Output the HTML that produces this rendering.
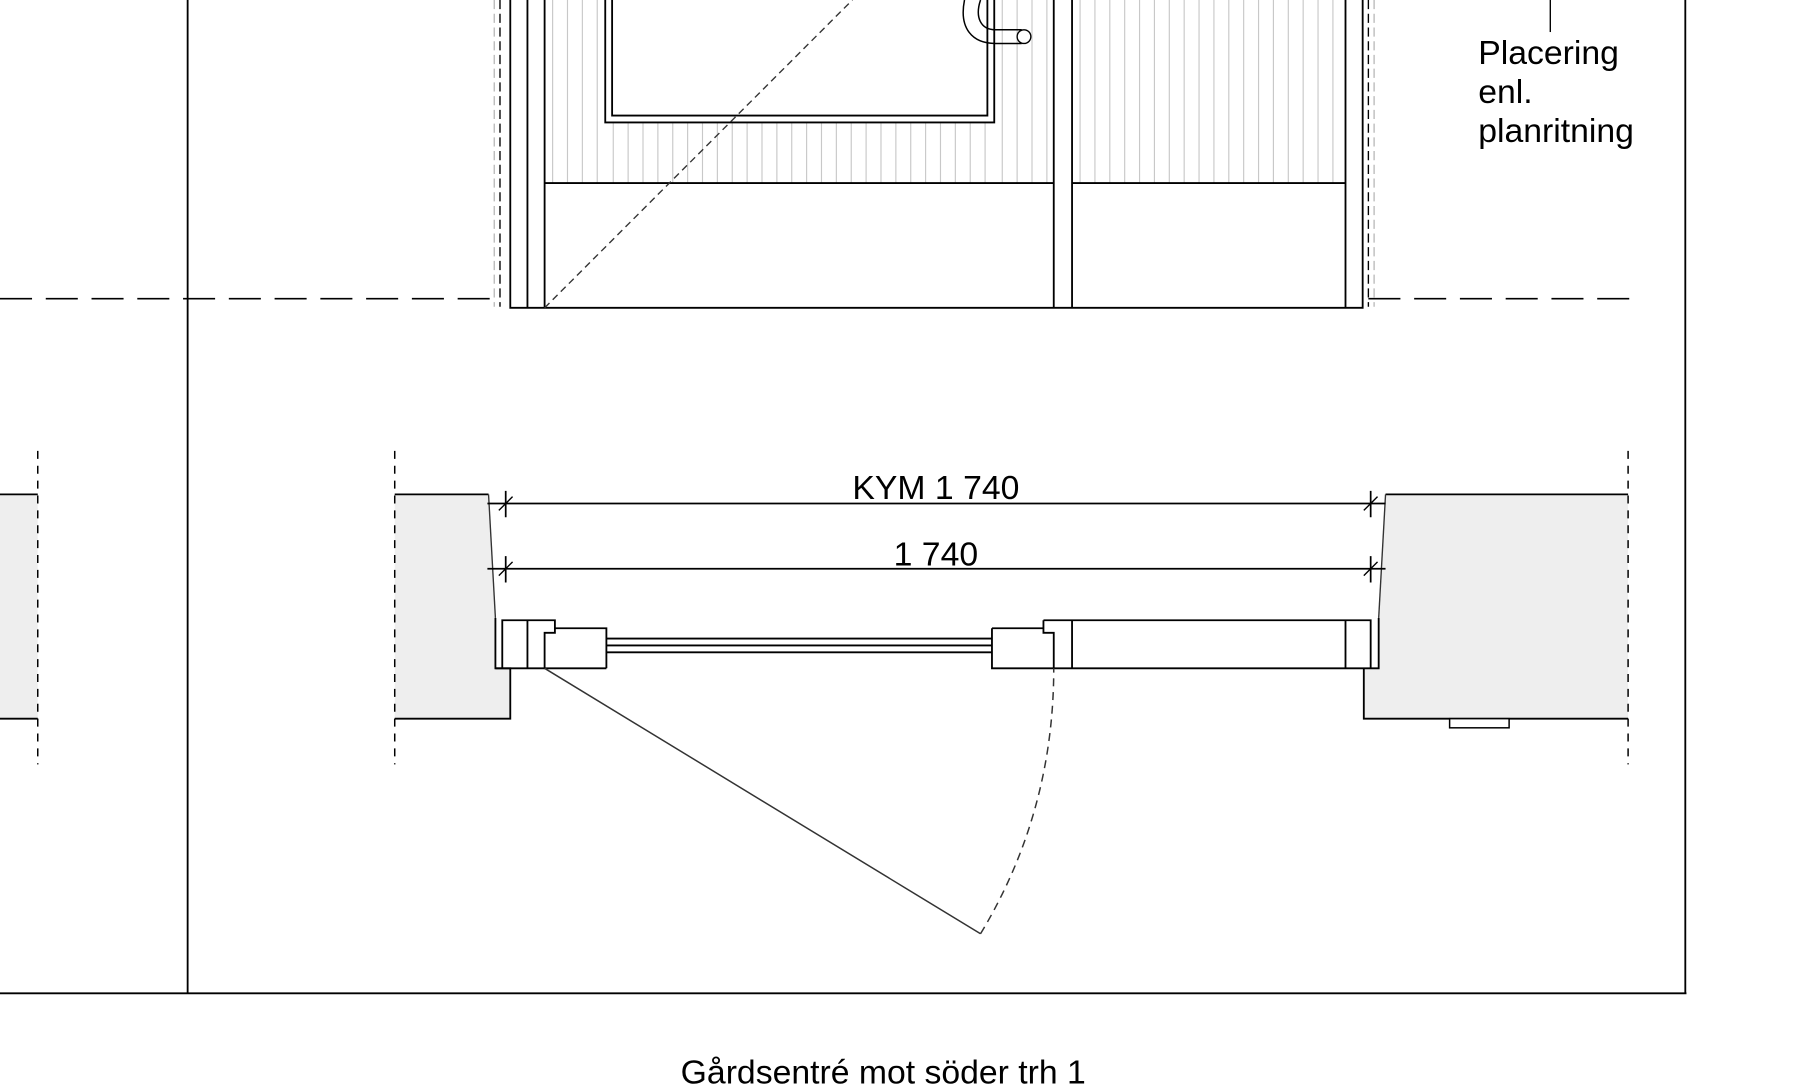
<!DOCTYPE html>
<html><head><meta charset="utf-8"><style>html,body{margin:0;padding:0;background:#fff;overflow:hidden}svg{display:block}</style></head>
<body>
<svg width="1794" height="1086" viewBox="0 0 1568 949" preserveAspectRatio="none" xmlns="http://www.w3.org/2000/svg" font-family="Liberation Sans, sans-serif">
<rect width="1568" height="949" fill="#fff"/>
<g stroke="#000" stroke-width="1.6" fill="none">
<line x1="164" y1="0" x2="164" y2="868"/>
<line x1="0" y1="868" x2="1474" y2="868"/>
<line x1="1473" y1="0" x2="1473" y2="868"/>
</g>
<g stroke="#000" stroke-width="1.4" stroke-dasharray="28,12">
<line x1="0" y1="261" x2="432" y2="261"/>
<line x1="1196" y1="261" x2="1432" y2="261"/>
</g>
<g stroke="#c8c8c8" stroke-width="1">
<path d="M483 0V160M496 0V160M509 0V160M522 0V160"/>
<path d="M536 107V160M549 107V160M562 107V160M575 107V160M588 107V160M601 107V160M614 107V160M627 107V160M640 107V160M653 107V160M666 107V160M679 107V160M692 107V160M705 107V160M718 107V160M731 107V160M744 107V160M757 107V160M770 107V160M783 107V160M796 107V160M809 107V160M822 107V160M835 107V160M848 107V160M861 107V160"/>
<path d="M876 0V160M889 0V160M902 0V160M915 0V160"/>
<path d="M944 0V160M957 0V160M970 0V160M983 0V160M996 0V160M1009 0V160M1022 0V160M1035 0V160M1048 0V160M1061 0V160M1074 0V160M1087 0V160M1100 0V160M1113 0V160M1126 0V160M1139 0V160M1152 0V160M1165 0V160"/>
</g>
<g stroke="#bbb" stroke-width="1.2" stroke-dasharray="8,4">
<line x1="432" y1="0" x2="432" y2="268"/><line x1="1201" y1="0" x2="1201" y2="268"/>
</g>
<g stroke="#000" stroke-width="1.2" stroke-dasharray="8,4">
<line x1="437" y1="0" x2="437" y2="268"/><line x1="1196" y1="0" x2="1196" y2="268"/>
</g>
<g stroke="#000" stroke-width="1.6" fill="none">
<path d="M446 0V269H1191V0"/>
<path d="M461 0V269M476 0V269M921 0V269M937 0V269M1176 0V269"/>
<path d="M476 160H921M937 160H1176"/>
<path d="M529 0V107H869V0"/>
<path d="M535 0V101H863V0"/>
<path d="M843 0C838 25 850 38 870 38H893M857 0C852 15 857 26 870 26H893" stroke-width="1.3"/>
<circle cx="895" cy="32" r="6" stroke-width="1.2"/>
</g>
<line x1="476" y1="269" x2="745" y2="0" stroke="#333" stroke-width="1.2" stroke-dasharray="6,4"/>
<line x1="1355" y1="0" x2="1355" y2="28" stroke="#000" stroke-width="1.2"/>
<g font-size="29.5" fill="#000">
<text x="1292" y="56">Placering</text>
<text x="1292" y="90">enl.</text>
<text x="1292" y="124">planritning</text>
</g>
<g stroke="#000" stroke-width="1.6">
<path d="M0 432H33V628H0Z" fill="#eee" stroke="none"/>
<path d="M0 432H33M0 628H33" fill="none"/>
<path d="M345 432H427L433 540V584H446V628H345Z" fill="#eee" stroke="none"/>
<path d="M345 432H427M433 584H446V628H345" fill="none"/>
<path d="M1211 432H1423V628H1192V584H1205V540Z" fill="#eee" stroke="none"/>
<path d="M1211 432H1423M1423 628H1192V584" fill="none"/>
<rect x="1267" y="628" width="52" height="8" fill="#fff" stroke-width="1.3"/>
</g>
<g stroke="#333" stroke-width="1.2">
<line x1="427" y1="432" x2="433" y2="540"/>
<line x1="1211" y1="432" x2="1205" y2="540"/>
</g>
<g stroke="#000" stroke-width="1.3" stroke-dasharray="7,6">
<line x1="33" y1="394" x2="33" y2="668"/>
<line x1="345" y1="394" x2="345" y2="668"/>
<line x1="1423" y1="394" x2="1423" y2="668"/>
</g>
<g stroke="#000" stroke-width="1.5">
<line x1="426" y1="440" x2="1211" y2="440"/>
<line x1="426" y1="497" x2="1211" y2="497"/>
<path d="M442 429V452M442 486V509M1198 429V452M1198 486V509"/>
<path d="M436 446L448 434M436 503L448 491M1192 446L1204 434M1192 503L1204 491" stroke-width="1.2"/>
</g>
<g font-size="29.5" fill="#000" text-anchor="middle">
<text x="818" y="436">KYM 1 740</text>
<text x="818" y="494">1 740</text>
</g>
<g stroke="#000" stroke-width="1.6" fill="#fff">
<path d="M433 540V584H530" fill="none"/>
<path d="M439 584V542H485V553H476V584M461 542V584" fill="none"/>
<path d="M485 549H530V584" fill="none"/>
<path d="M530 558H867M530 564H867M530 570H867" fill="none"/>
<path d="M867 549H912M867 549V584H1205V540" fill="none"/>
<path d="M912 542H1198V584M912 542V553H921V584M937 542V584M1176 542V584" fill="none"/>
</g>
<line x1="476" y1="584" x2="857" y2="816" stroke="#333" stroke-width="1.3"/>
<path d="M857 816Q921 710 921 584" stroke="#333" stroke-width="1.3" fill="none" stroke-dasharray="7,5"/>
<text x="772" y="947" font-size="29.5" text-anchor="middle" fill="#000">Gårdsentré mot söder trh 1</text>
</svg>
</body></html>
